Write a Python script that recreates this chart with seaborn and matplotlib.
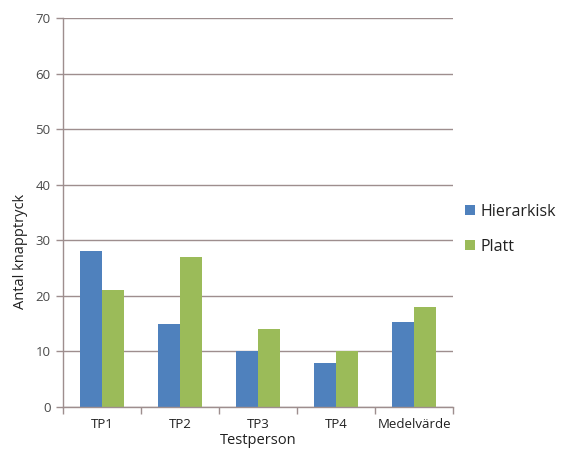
import matplotlib
matplotlib.use("Agg")
import matplotlib.pyplot as plt
import seaborn as sns
import pandas as pd
from matplotlib.patches import Patch
from matplotlib.ticker import FixedLocator

categories = ["TP1", "TP2", "TP3", "TP4", "Medelvärde"]
hierarkisk = [28, 15, 10, 8, 15.25]
platt = [21, 27, 14, 10, 18]
series_names = ["Hierarkisk", "Platt"]
colors = ["#4F81BD", "#9BBB59"]

df = pd.DataFrame({
    "Testperson": categories * 2,
    "Antal": hierarkisk + platt,
    "Serie": [series_names[0]] * len(categories) + [series_names[1]] * len(categories),
})

sns.set_theme(style="white")
plt.rcParams["font.family"] = ["Open Sans", "DejaVu Sans"]

fig = plt.figure(figsize=(5.63, 4.62), dpi=100)
ax = fig.add_axes([0.112, 0.119, 0.693, 0.842])

sns.barplot(data=df, x="Testperson", y="Antal", hue="Serie", palette=colors,
            width=0.56, gap=0, saturation=1, ax=ax, legend=False,
            edgecolor="none", linewidth=0)

grid_c = "#9E8E8E"
ax.set_ylim(0, 70)
ax.set_xlim(-0.5, len(categories) - 0.5)
ax.set_yticks(range(0, 71, 10))
ax.yaxis.grid(True, color=grid_c, linewidth=1.0)
ax.set_axisbelow(True)

for s in ["top", "right"]:
    ax.spines[s].set_visible(False)
for s in ["left", "bottom"]:
    ax.spines[s].set_color(grid_c)
    ax.spines[s].set_linewidth(1.0)

ax.tick_params(axis="y", which="major", length=5, color=grid_c, width=1,
               labelsize=9.5, labelcolor="#4A4A4A", pad=4, left=True)
ax.tick_params(axis="x", which="major", length=0, labelsize=9.5,
               labelcolor="#202020", pad=8)
ax.xaxis.set_minor_locator(FixedLocator([i - 0.5 for i in range(len(categories) + 1)]))
ax.tick_params(axis="x", which="minor", length=5, color=grid_c, width=1, bottom=True)

ax.set_xlabel("Testperson", fontsize=10.5, color="#202020", labelpad=1)
ax.set_ylabel("Antal knapptryck", fontsize=10.5, color="#202020")
ax.yaxis.set_label_coords(-0.09, 0.40)

handles = [Patch(facecolor=c, edgecolor="none") for c in colors]
fig.legend(handles, series_names, loc="center left",
           bbox_to_anchor=(0.826, 0.504), frameon=False, fontsize=11.5,
           borderpad=0, borderaxespad=0,
           handlelength=0.6, handleheight=0.6, handletextpad=0.35,
           labelspacing=1.2, labelcolor="#202020")

fig.savefig("out.png", dpi=100, facecolor="white")
